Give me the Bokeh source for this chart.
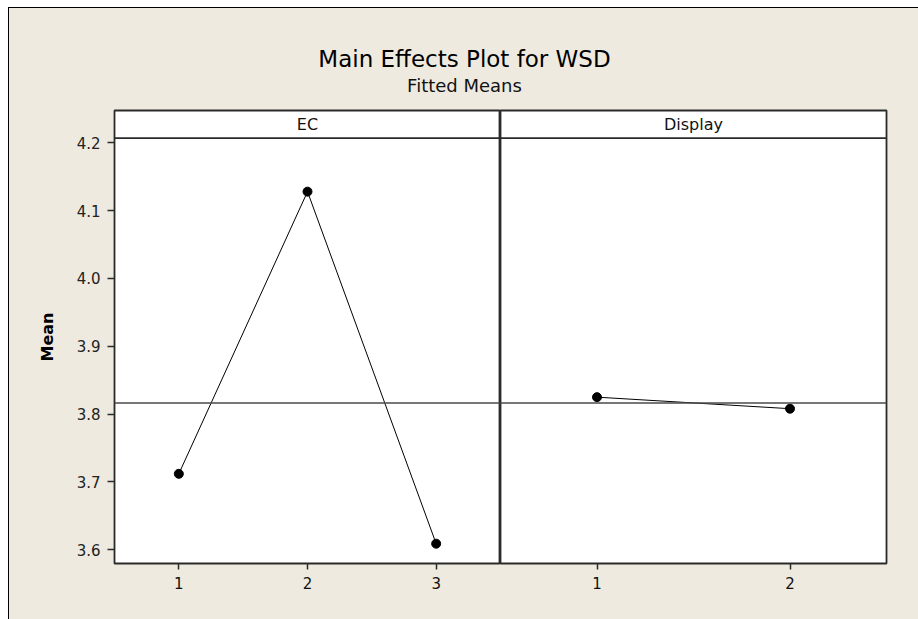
from bokeh.plotting import figure
from bokeh.layouts import column, row
from bokeh.models import Span, Label, FixedTicker, Range1d, PrintfTickFormatter
from bokeh.embed import file_html
from bokeh.resources import INLINE
from bokeh.core.properties import value

# ---------------- data ----------------
title_text = "Main Effects Plot for WSD"
subtitle_text = "Fitted Means"
y_label = "Mean"
factor_names = ["EC", "Display"]
ec_levels = [1, 2, 3]
ec_means = [3.712, 4.128, 3.609]
display_levels = [1, 2]
display_means = [3.825, 3.808]
grand_mean = 3.8165
y_ticks = [3.6, 3.7, 3.8, 3.9, 4.0, 4.1, 4.2]

# ---------------- styling ----------------
BG = "#eeeae0"
FONT = "DejaVu Sans"
LINE = "#2a2a2a"
Y_MIN, Y_DATA_TOP, Y_MAX = 3.5798, 4.207, 4.2476
FRAME_W, FRAME_H = 386, 453


def panel(name, levels, means, left_axis):
    lo, hi = levels[0] - 0.5, levels[-1] + 0.5
    p = figure(
        output_backend="svg", toolbar_location=None,
        frame_width=FRAME_W, frame_height=FRAME_H,
        x_range=Range1d(lo, hi), y_range=Range1d(Y_MIN, Y_MAX),
        y_axis_location="left" if left_axis else None,
        min_border_left=105 if left_axis else 0,
        min_border_right=0 if left_axis else 32,
        min_border_top=1, min_border_bottom=56,
        background_fill_color="white", border_fill_color=BG,
        outline_line_color=LINE, outline_line_width=1.8,
    )
    p.grid.visible = False
    xa = p.xaxis[0]
    xa.ticker = FixedTicker(ticks=levels)
    xa.axis_line_color = None
    xa.major_tick_in = 0
    xa.major_tick_out = 6
    xa.minor_tick_line_color = None
    xa.major_tick_line_color = LINE
    xa.major_tick_line_width = 1.5
    xa.major_label_text_font = FONT
    xa.major_label_text_font_size = "15px"
    xa.major_label_text_color = "#111111"
    xa.major_label_standoff = 7
    if left_axis:
        ya = p.yaxis[0]
        ya.ticker = FixedTicker(ticks=y_ticks)
        ya.formatter = PrintfTickFormatter(format="%.1f")
        ya.axis_line_color = None
        ya.major_tick_in = 0
        ya.major_tick_out = 7
        ya.minor_tick_line_color = None
        ya.major_tick_line_color = LINE
        ya.major_tick_line_width = 1.5
        ya.major_label_text_font = FONT
        ya.major_label_text_font_size = "15px"
        ya.major_label_text_color = "#222222"
        ya.major_label_standoff = 7
        ya.axis_label = y_label
        ya.axis_label_text_font = FONT
        ya.axis_label_text_font_size = "16px"
        ya.axis_label_text_font_style = "bold"
        ya.axis_label_text_color = "black"
        ya.axis_label_standoff = 17

    # header strip
    p.add_layout(Span(location=Y_DATA_TOP, dimension="width",
                      line_color=LINE, line_width=1.8))
    p.text(x=[(lo + hi) / 2], y=[(Y_DATA_TOP + Y_MAX) / 2], text=[name],
           text_font=value(FONT), text_font_size="16px",
           text_align="center", text_baseline="middle", text_color="#111111")

    # grand mean reference line
    p.add_layout(Span(location=grand_mean, dimension="width",
                      line_color="#4a4a4a", line_width=1.5))

    p.line(levels, means, line_color="black", line_width=1)
    p.scatter(levels, means, size=9, marker="circle",
              fill_color="black", line_color="black")
    return p


p_ec = panel(factor_names[0], ec_levels, ec_means, True)
p_disp = panel(factor_names[1], display_levels, display_means, False)

# title area
top = figure(
    output_backend="svg", toolbar_location=None,
    width=909, height=101,
    x_range=Range1d(0, 909), y_range=Range1d(0, 101),
    x_axis_location=None, y_axis_location=None,
    min_border=0, outline_line_color=None,
    background_fill_color=BG, border_fill_color=BG,
)
top.grid.visible = False
top.add_layout(Label(x=455, y=51, text=title_text, text_font=FONT,
                     text_font_size="23px", text_align="center",
                     text_baseline="alphabetic", text_color="black"))
top.add_layout(Label(x=455, y=24, text=subtitle_text, text_font=FONT,
                     text_font_size="18px", text_align="center",
                     text_baseline="alphabetic", text_color="#111111"))

layout = column(
    top, row(p_ec, p_disp, spacing=0), spacing=0,
    styles={"border-left": "1px solid black", "border-top": "1px solid black",
            "background-color": BG, "margin": "7px 0 0 8px"},
)

open("out.html", "w").write(file_html(layout, INLINE))
